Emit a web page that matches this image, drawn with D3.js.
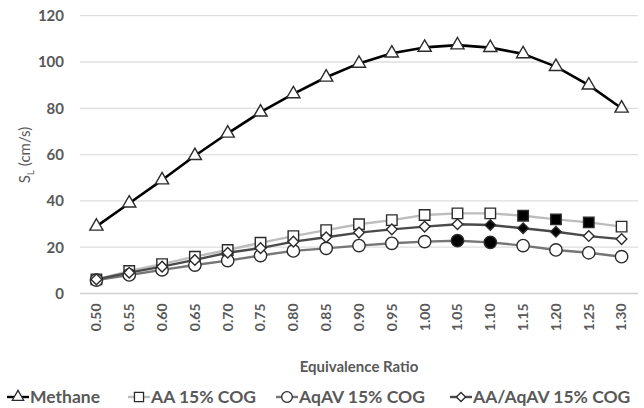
<!DOCTYPE html>
<html>
<head>
<meta charset="utf-8">
<script src="https://cdn.jsdelivr.net/npm/d3@7/dist/d3.min.js"></script>
<style>
  html, body { margin: 0; padding: 0; background: #fff; }
  svg { display: block; }
  text { font-family: Lato, "Open Sans", sans-serif; fill: #595959; }
</style>
</head>
<body>
<svg id="chart" width="644" height="408"></svg>
<script>
// Equivalence ratios (x categories)
const ratios = ["0.50","0.55","0.60","0.65","0.70","0.75","0.80","0.85","0.90",
                "0.95","1.00","1.05","1.10","1.15","1.20","1.25","1.30"];

// Laminar burning velocity S_L (cm/s) per fuel
const methane = [29, 39, 49, 59.5, 69.2, 78.3, 86.2, 93.4, 99.4, 103.8, 106.3, 107.3, 106.2, 103.5, 98, 90, 80];
const aa      = [6.1, 9.7, 12.7, 15.9, 18.8, 21.9, 24.8, 27.4, 29.9, 31.7, 33.9, 34.6, 34.6, 33.6, 32, 30.7, 28.9];
const aqav    = [5.8, 8.0, 10.2, 12.3, 14.2, 16.4, 18.4, 19.5, 20.7, 21.7, 22.4, 22.8, 22.1, 20.7, 18.8, 17.6, 15.9];
const aaAqav  = [6.1, 9.0, 11.6, 14.5, 17.6, 19.6, 22.4, 24.3, 26.3, 27.7, 28.9, 29.9, 29.6, 28.2, 26.7, 24.8, 23.5];

// Ratios whose markers are drawn solid
const aaFilled     = ["1.15", "1.20", "1.25"];
const aqavFilled   = ["1.05", "1.10"];
const aaAqavFilled = ["1.10", "1.15", "1.20"];

const yTicks = [0, 20, 40, 60, 80, 100, 120];

// Square diamond (equal width and height), sized by area like d3 symbols
const squareDiamond = {
  draw(context, size) {
    const r = Math.sqrt(size / 2);
    context.moveTo(0, -r);
    context.lineTo(r, 0);
    context.lineTo(0, r);
    context.lineTo(-r, 0);
    context.closePath();
  }
};

const series = [
  { name: "AA 15% COG",       values: aa,      filled: aaFilled,     line: "#bdbdbd", symbol: d3.symbolSquare,   size: 110 },
  { name: "AqAV 15% COG",     values: aqav,    filled: aqavFilled,   line: "#767676", symbol: d3.symbolCircle,   size: 120 },
  { name: "AA/AqAV 15% COG",  values: aaAqav,  filled: aaAqavFilled, line: "#4a4a4a", symbol: squareDiamond,     size: 56 },
  { name: "Methane",          values: methane, filled: [],           line: "#000000", symbol: d3.symbolTriangle, size: 75 }
];

const svg = d3.select("#chart");

const x = d3.scaleBand().domain(ratios).range([80, 638]);
const y = d3.scaleLinear().domain([0, 120]).range([293.5, 15.7]);
const cx = d => x(d) + x.bandwidth() / 2;

// Horizontal gridlines
svg.append("g")
  .selectAll("line")
  .data(yTicks)
  .join("line")
  .attr("x1", 80).attr("x2", 638)
  .attr("y1", d => y(d)).attr("y2", d => y(d))
  .attr("stroke", d => d === 0 ? "#cfcfcf" : "#dedede")
  .attr("stroke-width", 1.3);

// Y axis tick labels
const yAxis = svg.append("g")
  .attr("transform", "translate(80,0)")
  .call(d3.axisLeft(y).tickValues(yTicks).tickSize(0).tickPadding(16));
yAxis.select(".domain").remove();
yAxis.selectAll("text")
  .style("font-family", "Lato, 'Open Sans', sans-serif")
  .style("font-size", "15px")
  .style("font-weight", "700")
  .attr("fill", "#595959");

// X axis tick labels, rotated
const xAxis = svg.append("g")
  .attr("transform", "translate(0,293.5)")
  .call(d3.axisBottom(x).tickSize(0).tickPadding(0));
xAxis.select(".domain").remove();
xAxis.selectAll("text")
  .style("font-family", "Lato, 'Open Sans', sans-serif")
  .style("font-size", "14px")
  .style("font-weight", "700")
  .attr("fill", "#595959")
  .attr("text-anchor", "end")
  .attr("dy", "0.35em")
  .attr("transform", "translate(0,10) rotate(-90)")
  .attr("x", 0).attr("y", 0);

// Axis titles
svg.append("text")
  .attr("x", 359).attr("y", 372)
  .attr("text-anchor", "middle")
  .style("font-size", "15px").style("font-weight", "700")
  .text("Equivalence Ratio");

const yTitle = svg.append("text")
  .attr("transform", "translate(30,155) rotate(-90)")
  .attr("text-anchor", "middle")
  .style("font-size", "15px");
yTitle.append("tspan").text("S");
yTitle.append("tspan").attr("dy", 4).style("font-size", "10px").text("L");
yTitle.append("tspan").attr("dy", -4).text(" (cm/s)");

// Lines
const line = d3.line().x((d, i) => cx(ratios[i])).y(d => y(d));
series.forEach(s => {
  svg.append("path")
    .datum(s.values)
    .attr("d", line)
    .attr("fill", "none")
    .attr("stroke", s.line)
    .attr("stroke-width", s.name === "Methane" ? 2.6 : 2.4)
    .attr("stroke-linejoin", "round");
});

// Markers
series.forEach(s => {
  svg.append("g")
    .selectAll("path")
    .data(s.values.map((v, i) => ({ r: ratios[i], v })))
    .join("path")
    .attr("d", d3.symbol().type(s.symbol).size(s.size))
    .attr("transform", d => `translate(${cx(d.r)},${y(d.v)})`)
    .attr("fill", d => s.filled.includes(d.r) ? "#000" : "#fff")
    .attr("stroke", "#2b2b2b")
    .attr("stroke-width", 1.4);
});

// Legend
const legendItems = [
  { s: series[3], x: 7 },
  { s: series[0], x: 128 },
  { s: series[1], x: 276 },
  { s: series[2], x: 450 }
];
const lg = svg.append("g").attr("transform", "translate(0,397)");
legendItems.forEach(({ s, x: lx }) => {
  const g = lg.append("g").attr("transform", `translate(${lx},0)`);
  g.append("line").attr("x1", 0).attr("x2", 22).attr("y1", 0).attr("y2", 0)
    .attr("stroke", s.line).attr("stroke-width", 2.4);
  g.append("path")
    .attr("d", d3.symbol().type(s.symbol).size(s.size * 0.75))
    .attr("transform", "translate(11,0)")
    .attr("fill", "#fff").attr("stroke", "#2b2b2b").attr("stroke-width", 1.3);
  g.append("text").attr("x", 23).attr("y", 0).attr("dy", "0.36em")
    .style("font-size", "17.5px").style("font-weight", "700")
    .text(s.name);
});
</script>
</body>
</html>
